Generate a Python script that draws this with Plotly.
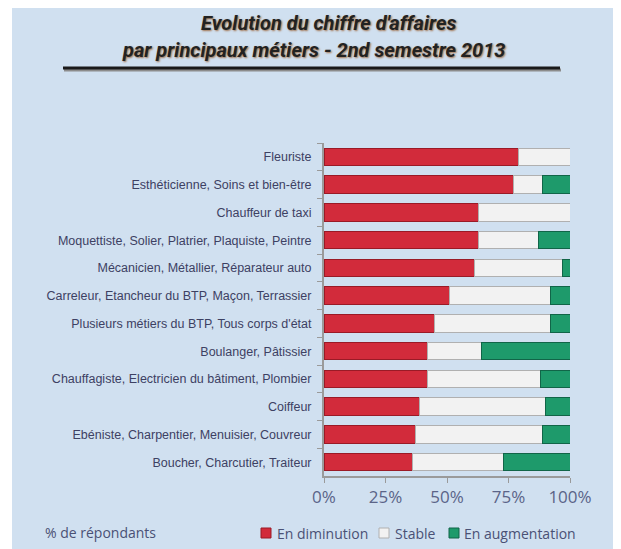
import plotly.graph_objects as go

# ── Data ───────────────────────────────────────────────────────────────────────
METIERS = [
    "Fleuriste",
    "Esthéticienne, Soins et bien-être",
    "Chauffeur de taxi",
    "Moquettiste, Solier, Platrier, Plaquiste, Peintre",
    "Mécanicien, Métallier, Réparateur auto",
    "Carreleur, Etancheur du BTP, Maçon, Terrassier",
    "Plusieurs métiers du BTP, Tous corps d'état",
    "Boulanger, Pâtissier",
    "Chauffagiste, Electricien du bâtiment, Plombier",
    "Coiffeur",
    "Ebéniste, Charpentier, Menuisier, Couvreur",
    "Boucher, Charcutier, Traiteur",
]
EN_DIMINUTION = [79, 77, 63, 63, 61, 51, 45, 42, 42, 39, 37, 36]
STABLE = [21, 12, 37, 24, 36, 41, 47, 22, 46, 51, 52, 37]
EN_AUGMENTATION = [0, 11, 0, 13, 3, 8, 8, 36, 12, 10, 11, 27]

X_TICKS = [0, 25, 50, 75, 100]
X_TICK_LABELS = ["0%", "25%", "50%", "75%", "100%"]

# ── Geometry (page pixels; the page body has an 8px margin) ───────────────────
PAGE_W, PAGE_H, OFF = 621, 549, 8
L, R, T, B = 324, 570, 143, 476


def px_x(x):
    return (x - L) / (R - L)


def px_y(y):
    return (B - y) / (B - T)


LABEL_FONT = dict(family="Liberation Sans", size=12.5, color="#3d4163")
AXIS_FONT = dict(family="Open Sans", size=17, color="#5b6488")
LEGEND_FONT = dict(family="Open Sans", size=14, color="#4a5175")

COLORS = {
    "En diminution": ("#d22b3b", "#9a1a26"),
    "Stable": ("#f2f2f2", "#b0b0b0"),
    "En augmentation": ("#1e9a6b", "#116548"),
}

fig = go.Figure()
for name, vals in [("En diminution", EN_DIMINUTION),
                   ("Stable", STABLE),
                   ("En augmentation", EN_AUGMENTATION)]:
    col, edge = COLORS[name]
    fig.add_trace(go.Bar(
        y=METIERS, x=vals, name=name, orientation="h",
        marker=dict(color=col, line=dict(color=edge, width=1)),
    ))

fig.update_layout(
    width=PAGE_W - OFF, height=PAGE_H - OFF,
    barmode="stack", bargap=0.37,
    paper_bgcolor="white",
    plot_bgcolor="rgba(0,0,0,0)",
    margin=dict(l=L - OFF, r=PAGE_W - R, t=T - OFF, b=PAGE_H - B, pad=0),
    showlegend=False,
    font=dict(family="Open Sans"),
)

fig.update_xaxes(
    range=[0, 100], tickvals=X_TICKS, ticktext=X_TICK_LABELS,
    showgrid=False, zeroline=False, automargin=False,
    showline=True, linecolor="#9a9a9a", linewidth=2,
    ticks="outside", ticklen=5, tickcolor="#9a9a9a",
    tickfont=AXIS_FONT,
)
fig.update_yaxes(
    autorange="reversed", showgrid=False, automargin=False,
    showline=True, linecolor="#9a9a9a", linewidth=2,
    ticks="outside", ticklen=5, tickcolor="#9a9a9a", tickson="boundaries",
    tickfont=LABEL_FONT, ticklabelstandoff=8,
)

# light blue panel behind everything
fig.add_shape(
    type="rect", xref="paper", yref="paper", layer="below",
    x0=px_x(12), x1=px_x(630), y0=px_y(560), y1=px_y(6),
    fillcolor="#d0e0f0", line=dict(width=0),
)
# title underline with a soft shadow
fig.add_shape(
    type="line", xref="paper", yref="paper",
    x0=px_x(64), x1=px_x(561), y0=px_y(70), y1=px_y(70),
    line=dict(color="#8c8c8c", width=3),
)
fig.add_shape(
    type="line", xref="paper", yref="paper",
    x0=px_x(63), x1=px_x(560), y0=px_y(68), y1=px_y(68),
    line=dict(color="#1a1a1a", width=3),
)

TITLE_FONT = dict(family="Roboto", size=20, color="#222222",
                  shadow="1px 1px 2px #a0704a")
fig.add_annotation(
    text="<b><i>Evolution du chiffre d'affaires</i></b>",
    xref="paper", yref="paper", x=px_x(328), y=px_y(23),
    xanchor="center", yanchor="middle", showarrow=False, font=TITLE_FONT,
)
fig.add_annotation(
    text="<b><i>par principaux métiers - 2nd semestre 2013</i></b>",
    xref="paper", yref="paper", x=px_x(314), y=px_y(50),
    xanchor="center", yanchor="middle", showarrow=False, font=TITLE_FONT,
)
fig.add_annotation(
    text="% de répondants",
    xref="paper", yref="paper", x=px_x(43), y=px_y(532),
    xanchor="left", yanchor="middle", showarrow=False, font=LEGEND_FONT,
)

# hand-placed legend (compact, like the original)
for name, sq_x, txt_x in [("En diminution", 261, 275),
                          ("Stable", 379, 393),
                          ("En augmentation", 449, 462)]:
    col, edge = COLORS[name]
    fig.add_shape(
        type="rect", xref="paper", yref="paper",
        x0=px_x(sq_x), x1=px_x(sq_x + 10), y0=px_y(538), y1=px_y(528),
        fillcolor=col, line=dict(color=edge, width=1),
    )
    fig.add_annotation(
        text=name, xref="paper", yref="paper", x=px_x(txt_x), y=px_y(533),
        xanchor="left", yanchor="middle", showarrow=False, font=LEGEND_FONT,
    )

fig.write_html("out.html")
